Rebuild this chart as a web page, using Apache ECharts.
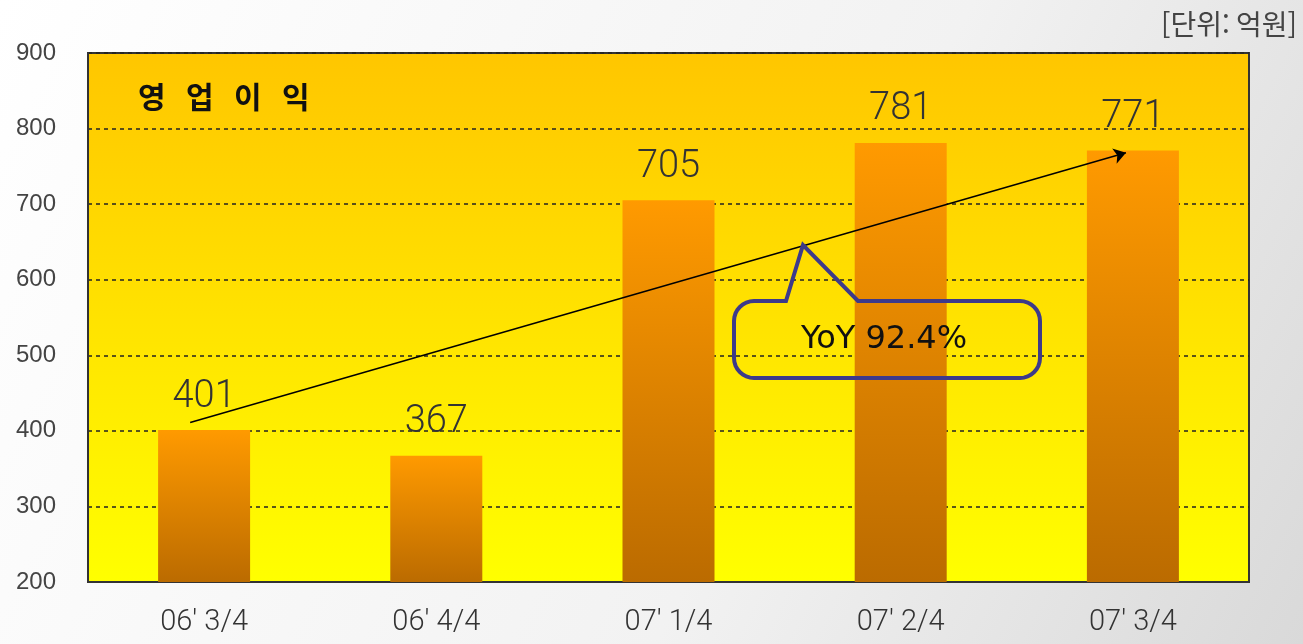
<!DOCTYPE html>
<html lang="ko">
<head>
<meta charset="UTF-8">
<title>영업이익</title>
<script src="https://cdn.jsdelivr.net/npm/echarts@6/dist/echarts.min.js"></script>
<style>
  html, body { margin: 0; padding: 0; }
  #chart { width: 1303px; height: 644px; }
</style>
</head>
<body>
<div id="chart"></div>
<script>
// data
var quarters = ["06' 3/4", "06' 4/4", "07' 1/4", "07' 2/4", "07' 3/4"];
var profit = [401, 367, 705, 781, 771];
var yTicks = { min: 200, max: 900, step: 100 };
// trend arrow: [category position, value]
var trendArrow = [[-0.06, 411], [3.97, 768]];
var yoyText = 'YoY 92.4%';

// speech bubble outline: rounded box with a pointer on its top edge
function bubblePoints(x0, y0, x1, y1, r, tip, baseL, baseR) {
    var pts = [[baseL, y0], tip, [baseR, y0]];
    function corner(cx, cy, a0) {
        for (var i = 0; i <= 8; i++) {
            var a = (a0 + i * 90 / 8) * Math.PI / 180;
            pts.push([cx + r * Math.cos(a), cy + r * Math.sin(a)]);
        }
    }
    corner(x1 - r, y0 + r, -90);
    corner(x1 - r, y1 - r, 0);
    corner(x0 + r, y1 - r, 90);
    corner(x0 + r, y0 + r, 180);
    return pts;
}

var chart = echarts.init(document.getElementById('chart'));

var option = {
    animation: false,
    backgroundColor: new echarts.graphic.LinearGradient(0, 0, 1, 1, [
        { offset: 0, color: '#ffffff' },
        { offset: 0.6, color: '#f2f2f2' },
        { offset: 1, color: '#d9d9d9' }
    ]),
    grid: {
        left: 88, right: 54, top: 53, bottom: 62,
        show: true,
        borderColor: '#333',
        borderWidth: 2,
        backgroundColor: new echarts.graphic.LinearGradient(0, 0, 0, 1, [
            { offset: 0, color: '#ffc600' },
            { offset: 1, color: '#ffff00' }
        ])
    },
    xAxis: [{
        type: 'category',
        data: quarters,
        axisLine: { lineStyle: { color: '#333', width: 2 } },
        axisTick: { inside: true, length: 8, lineStyle: { color: '#333', width: 1.5 } },
        axisLabel: { color: '#333', fontSize: 29, margin: 26, fontFamily: 'Roboto', fontWeight: 300 },
        splitLine: { show: false }
    }, {
        type: 'value',
        min: -0.5, max: 4.5,
        show: false
    }],
    yAxis: {
        type: 'value',
        min: yTicks.min, max: yTicks.max, interval: yTicks.step,
        axisLine: { show: true, onZero: false, lineStyle: { color: '#333', width: 2 } },
        axisTick: { show: false },
        axisLabel: { color: '#444', fontSize: 24, margin: 32, fontFamily: 'Liberation Sans' },
        splitLine: { lineStyle: { color: '#222', width: 1.5, type: [4, 4] } }
    },
    series: [{
        type: 'bar',
        data: profit,
        barWidth: 92,
        itemStyle: {
            color: new echarts.graphic.LinearGradient(0, 0, 0, 1, [
                { offset: 0, color: '#ff9a00' },
                { offset: 1, color: '#bb6b00' }
            ])
        },
        label: {
            show: true, position: 'top', distance: 14,
            color: '#333', fontSize: 38, fontFamily: 'Roboto', fontWeight: 300
        }
    }, {
        type: 'line',
        xAxisIndex: 1,
        data: [],
        symbol: 'none',
        markLine: {
            silent: true,
            symbol: ['none', 'arrow'],
            symbolSize: 12,
            label: { show: false },
            lineStyle: { color: '#000', width: 1.5, type: 'solid' },
            data: [[{ coord: trendArrow[0] }, { coord: trendArrow[1] }]]
        }
    }],
    graphic: [{
        type: 'text', left: 138, top: 82, z: 100,
        style: { text: '영   업   이   익', fontSize: 30, fontWeight: 'bold', fill: '#111', fontFamily: 'Noto Sans CJK KR' }
    }, {
        type: 'text', right: 6, top: 10, z: 100,
        style: { text: '[단위: 억원]', fontSize: 28, fill: '#444', fontFamily: 'Noto Sans CJK KR' }
    }, {
        type: 'polygon', z: 100,
        shape: { points: bubblePoints(734, 301, 1040, 378, 20, [803, 245], 786, 858) },
        style: { fill: 'none', stroke: '#3d3a8a', lineWidth: 4 }
    }, {
        type: 'text', x: 884, y: 340, z: 101,
        style: { text: yoyText, fontSize: 32, fill: '#111', fontFamily: 'DejaVu Sans', align: 'center', verticalAlign: 'middle' }
    }]
};

chart.setOption(option);
</script>
</body>
</html>
